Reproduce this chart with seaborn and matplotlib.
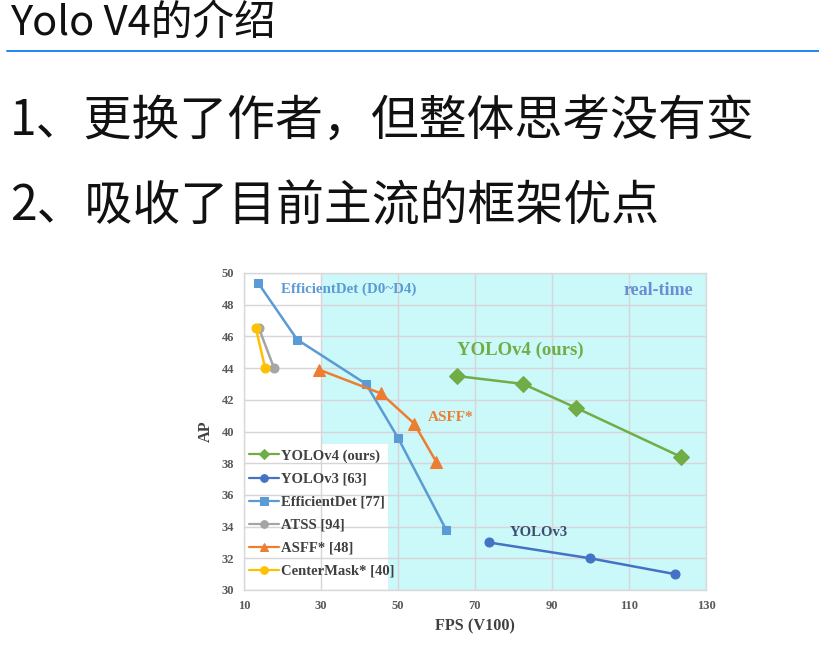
import matplotlib
matplotlib.use("Agg")
import matplotlib.pyplot as plt
from matplotlib.lines import Line2D
from matplotlib.patches import Rectangle
import seaborn as sns
import pandas as pd

# ---- data (FPS on V100, AP) ----
yolov4_fps = [65.3, 82.5, 96.2, 123.5]
yolov4_ap = [43.5, 43.0, 41.5, 38.4]
yolov3_fps = [73.6, 99.9, 122.0]
yolov3_ap = [33.0, 32.0, 31.0]
effdet_fps = [13.6, 23.8, 41.7, 50.0, 62.5]
effdet_ap = [49.4, 45.8, 43.0, 39.6, 33.8]
atss_fps = [13.9, 17.8]
atss_ap = [46.5, 44.0]
asff_fps = [29.5, 45.6, 54.2, 59.9]
asff_ap = [43.9, 42.4, 40.5, 38.1]
centermask_fps = [13.1, 15.5]
centermask_ap = [46.5, 44.0]

series_labels = ["YOLOv4 (ours)", "YOLOv3 [63]", "EfficientDet [77]",
                 "ATSS [94]", "ASFF* [48]", "CenterMask* [40]"]
x_ticks = [10, 30, 50, 70, 90, 110, 130]
y_ticks = [30, 32, 34, 36, 38, 40, 42, 44, 46, 48, 50]

title_text = "Yolo V4的介绍"
bullet_1 = "1、更换了作者，但整体思考没有变"
bullet_2 = "2、吸收了目前主流的框架优点"

frames = []
for name, fps, ap in zip(series_labels,
                         [yolov4_fps, yolov3_fps, effdet_fps, atss_fps, asff_fps, centermask_fps],
                         [yolov4_ap, yolov3_ap, effdet_ap, atss_ap, asff_ap, centermask_ap]):
    frames.append(pd.DataFrame({"model": name, "fps": fps, "ap": ap}))
df = pd.concat(frames, ignore_index=True)

styles = {
    "YOLOv4 (ours)": dict(color="#70AD47", marker="D", ms=8),
    "YOLOv3 [63]": dict(color="#4472C4", marker="o", ms=6.5),
    "EfficientDet [77]": dict(color="#5B9BD5", marker="s", ms=6),
    "ATSS [94]": dict(color="#A5A5A5", marker="o", ms=6.5),
    "ASFF* [48]": dict(color="#ED7D31", marker="^", ms=9),
    "CenterMask* [40]": dict(color="#FFC000", marker="o", ms=6.5),
}

sns.set_theme(style="white")
plt.rcParams["font.family"] = ["Noto Sans CJK SC", "DejaVu Sans"]

fig = plt.figure(figsize=(8.2, 6.58), dpi=100)
fig.patch.set_facecolor("white")

# ---- slide header ----
fig.text(10 / 820, 1 - 23 / 658, title_text, fontsize=30, color="#111111",
         va="center", ha="left", fontweight="light")
fig.add_artist(Line2D([7 / 820, 1.0], [1 - 51 / 658, 1 - 51 / 658],
                      color="#1E86F2", lw=1.4, transform=fig.transFigure))
fig.text(10 / 820, 1 - 122 / 658, bullet_1, fontsize=34.5, color="#111111",
         va="center", ha="left", fontweight="light")
fig.text(10 / 820, 1 - 207 / 658, bullet_2, fontsize=34.5, color="#111111",
         va="center", ha="left", fontweight="light")

# ---- chart ----
ax = fig.add_axes([244 / 820, 1 - 590 / 658, 462 / 820, 317 / 658])
ax.set_facecolor("white")
ax.set_xlim(10, 130)
ax.set_ylim(30, 50)

# real-time region, with the legend area left white
ax.axvspan(30, 130, color="#CBF8F9", zorder=0.1, lw=0)
ax.add_patch(Rectangle((10, 30), 37.4, 9.2, facecolor="white", edgecolor="none", zorder=0.2))

ax.set_axisbelow(True)
ax.grid(True, color="#DAD4D8", lw=1.0)

for name in series_labels:
    st = styles[name]
    sub = df[df["model"] == name]
    sns.lineplot(data=sub, x="fps", y="ap", ax=ax, sort=False, label=name,
                 color=st["color"], marker=st["marker"], markersize=st["ms"],
                 markeredgecolor=st["color"], lw=1.8, zorder=3)

serif = "Liberation Serif"
ax.set_xticks(x_ticks)
ax.set_yticks(y_ticks)
ax.tick_params(axis="both", length=0, pad=7, labelsize=9, labelcolor="#595959")
for lab in ax.get_xticklabels() + ax.get_yticklabels():
    lab.set_fontfamily(serif)
    lab.set_fontweight("bold")

ax.set_xlabel("FPS (V100)", fontfamily=serif, fontweight="bold", fontsize=11.7,
              color="#404040", labelpad=5)
ax.set_ylabel("AP", fontfamily=serif, fontweight="bold", fontsize=11.7,
              color="#404040", labelpad=6)

for side in ["left", "bottom", "top", "right"]:
    ax.spines[side].set_visible(True)
    ax.spines[side].set_color("#D9D9D9")
    ax.spines[side].set_linewidth(1.0)

# in-plot annotations
ax.text(19.6, 49.0, "EfficientDet (D0~D4)", color="#5B9BD5", fontfamily=serif,
        fontweight="bold", fontsize=10.8, va="center", ha="left", zorder=4)
ax.text(108.6, 48.9, "real-time", color="#6A8FD0", fontfamily=serif,
        fontweight="bold", fontsize=13, va="center", ha="left", zorder=4)
ax.text(65.3, 45.15, "YOLOv4 (ours)", color="#70AD47", fontfamily=serif,
        fontweight="bold", fontsize=13.5, va="center", ha="left", zorder=4)
ax.text(57.8, 40.9, "ASFF*", color="#ED7D31", fontfamily=serif,
        fontweight="bold", fontsize=11, va="center", ha="left", zorder=4)
ax.text(79.1, 33.6, "YOLOv3", color="#3B4C6E", fontfamily=serif,
        fontweight="bold", fontsize=10.6, va="center", ha="left", zorder=4)

leg = ax.legend(loc="lower left", bbox_to_anchor=(-0.017, 0.0), frameon=False,
                prop={"family": serif, "weight": "bold", "size": 10.5},
                handlelength=2.1, handletextpad=0.1, labelspacing=0.67,
                borderaxespad=0.55, borderpad=0.3)
for text in leg.get_texts():
    text.set_color("#404040")
for h in leg.legend_handles:
    h.set_markersize(5.5)
    h.set_linewidth(1.6)

fig.savefig("out.png", dpi=100, facecolor="white")
